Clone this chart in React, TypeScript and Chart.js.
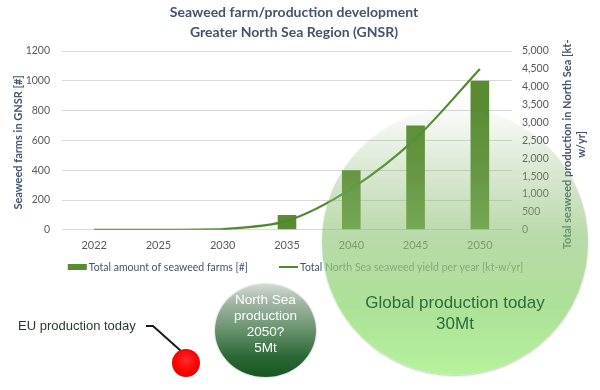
import React, { useEffect, useRef } from "react";
import { Chart, registerables } from "chart.js";

Chart.register(...registerables);

// ---- data ----
const years = ["2022", "2025", "2030", "2035", "2040", "2045", "2050"];
const farms = [0, 0, 0, 100, 400, 700, 1000];
const yieldKt = [0, 0, 20, 250, 1150, 2550, 4500];
const farmsLabel = "Total amount of seaweed farms [#]";
const yieldLabel = "Total North Sea seaweed yield per year [kt-w/yr]";
const titleLines = ["Seaweed farm/production development", "Greater North Sea Region (GNSR)"];
const leftTitle = "Seaweed farms in GNSR [#]";
const rightTitle = ["Total seaweed production in North Sea [kt-", "w/yr]"];
const farmsMax = 1200;
const farmsStep = 200;
const yieldMax = 5000;
const yieldStep = 500;
const northSeaLines = ["North Sea", "production", "2050?", "5Mt"];
const globalLines = ["Global production today", "30Mt"];
const euLabel = "EU production today";

const FONT = "Lato, 'Open Sans', sans-serif";
const TITLE_COLOR = "#44546a";
const TICK_COLOR = "#595959";
const BAR_COLOR = "#5a8b33";
const LINE_COLOR = "#4d8a2c";

const textPlugin = {
  id: "customText",
  afterDraw(chart: any) {
    const ctx = chart.ctx;
    const area = chart.chartArea;
    ctx.save();
    ctx.fillStyle = TITLE_COLOR;
    ctx.textAlign = "center";
    ctx.textBaseline = "middle";
    ctx.font = `bold 14px ${FONT}`;
    titleLines.forEach((t, i) => ctx.fillText(t, 294, 12 + i * 20));
    const midY = (area.top + area.bottom) / 2;
    ctx.font = `bold 11px ${FONT}`;
    ctx.save();
    ctx.translate(18, midY + 2);
    ctx.rotate(-Math.PI / 2);
    ctx.fillText(leftTitle, 0, 0);
    ctx.restore();
    ctx.save();
    ctx.translate(567, midY + 4);
    ctx.rotate(-Math.PI / 2);
    rightTitle.forEach((t, i) => ctx.fillText(t, 0, i * 14));
    ctx.restore();

    // legend
    const metas = chart.data.datasets;
    ctx.font = `10.5px ${FONT}`;
    ctx.textAlign = "left";
    const sw = 19;
    const gapText = 2;
    const gapItems = 31;
    const w1 = ctx.measureText(metas[0].label).width;
    const w2 = ctx.measureText(metas[1].label).width;
    const total = sw + gapText + w1 + gapItems + sw + gapText + w2;
    let x = 295.5 - total / 2;
    const ly = 267;
    ctx.fillStyle = BAR_COLOR;
    ctx.fillRect(x, ly - 3, sw, 6);
    ctx.fillStyle = TITLE_COLOR;
    ctx.fillText(metas[0].label, x + sw + gapText, ly + 0.5);
    x += sw + gapText + w1 + gapItems;
    ctx.strokeStyle = LINE_COLOR;
    ctx.lineWidth = 2;
    ctx.beginPath();
    ctx.moveTo(x, ly);
    ctx.lineTo(x + sw, ly);
    ctx.stroke();
    ctx.fillText(metas[1].label, x + sw + gapText, ly + 0.5);
    ctx.restore();
  },
};

export default function App() {
  const ref = useRef<HTMLCanvasElement>(null);
  useEffect(() => {
    if (!ref.current) return;
    const chart = new Chart(ref.current, {
      type: "bar",
      data: {
        labels: years,
        datasets: [
          {
            type: "bar",
            label: farmsLabel,
            data: farms,
            yAxisID: "y",
            backgroundColor: BAR_COLOR,
            barPercentage: 0.29,
            categoryPercentage: 1,
            order: 1,
          } as any,
          {
            type: "line",
            label: yieldLabel,
            data: yieldKt,
            yAxisID: "y1",
            borderColor: LINE_COLOR,
            backgroundColor: LINE_COLOR,
            borderWidth: 2.2,
            pointRadius: 0,
            tension: 0.3,
            order: 0,
          } as any,
        ],
      },
      options: {
        responsive: false,
        animation: false,
        layout: { padding: { top: 51, bottom: 129, left: 0, right: 0 } },
        plugins: {
          title: { display: false },
          tooltip: { enabled: false },
          legend: { display: false },
        },
        scales: {
          x: {
            grid: { display: false, drawTicks: false },
            border: { display: false },
            ticks: { color: TICK_COLOR, font: { family: FONT, size: 11 }, padding: 9 },
          },
          y: {
            position: "left",
            min: 0,
            max: farmsMax,
            grid: { color: "#d9d9d9", drawTicks: false },
            border: { display: false },
            ticks: {
              stepSize: farmsStep,
              color: TICK_COLOR,
              font: { family: FONT, size: 10.5 },
              padding: 12,
              callback: (v: any) => String(v),
            },
            afterFit: (s: any) => {
              s.width = 62;
            },
          },
          y1: {
            position: "right",
            min: 0,
            max: yieldMax,
            grid: { drawOnChartArea: false, drawTicks: false },
            border: { display: false },
            ticks: {
              stepSize: yieldStep,
              color: TICK_COLOR,
              font: { family: FONT, size: 10.5 },
              padding: 10,
              callback: (v: any) => Number(v).toLocaleString("en-US"),
            },
            afterFit: (s: any) => {
              s.width = 88;
            },
          },
        },
      },
      plugins: [textPlugin],
    });
    return () => chart.destroy();
  }, []);

  const sans = "'Liberation Sans', Arial, sans-serif";
  return (
    <div style={{ position: "absolute", left: 0, top: 0, width: 600, height: 390, overflow: "hidden", background: "#fff" }}>
      <canvas ref={ref} width={600} height={390} style={{ position: "absolute", left: 0, top: 0 }} />
      {/* Global production circle */}
      <div
        style={{
          position: "absolute",
          left: 322,
          top: 109,
          width: 266,
          height: 266,
          borderRadius: "50%",
          background:
            "linear-gradient(to bottom, rgba(130,170,110,0.04) 0%, rgba(132,178,108,0.32) 25%, rgba(138,193,112,0.6) 48%, rgba(158,220,133,0.85) 75%, rgba(180,242,155,0.97) 100%)",
          boxShadow: "0 1px 2px rgba(60,90,50,0.3)",
        }}
      />
      <div
        style={{
          position: "absolute",
          left: 322,
          top: 292,
          width: 266,
          textAlign: "center",
          fontFamily: sans,
          fontSize: 17,
          lineHeight: "21px",
          color: "#2e6b3d",
        }}
      >
        {globalLines.map((l, i) => (
          <div key={i}>{l}</div>
        ))}
      </div>
      {/* North Sea 2050 circle */}
      <div
        style={{
          position: "absolute",
          left: 215,
          top: 284,
          width: 101,
          height: 93,
          borderRadius: "50%",
          background: "linear-gradient(to bottom, #d2dad2 0%, #a3b5a5 20%, #6a9470 48%, #2d6838 78%, #17571f 100%)",
          boxShadow: "0 0 2px rgba(0,0,0,0.35)",
        }}
      />
      <div
        style={{
          position: "absolute",
          left: 215,
          top: 292,
          width: 101,
          textAlign: "center",
          fontFamily: sans,
          fontSize: 13.5,
          lineHeight: "16px",
          color: "#ffffff",
        }}
      >
        {northSeaLines.map((l, i) => (
          <div key={i}>{l}</div>
        ))}
      </div>
      {/* EU label + connector + red dot */}
      <div
        style={{
          position: "absolute",
          left: 18,
          top: 317,
          fontFamily: sans,
          fontSize: 13,
          lineHeight: "17px",
          color: "#1f3b2b",
          whiteSpace: "nowrap",
        }}
      >
        {euLabel}
      </div>
      <svg width={600} height={390} style={{ position: "absolute", left: 0, top: 0 }}>
        <polyline points="146,326 153,326 181,351" fill="none" stroke="#1a1a1a" strokeWidth={2} />
      </svg>
      <div
        style={{
          position: "absolute",
          left: 172,
          top: 349,
          width: 28,
          height: 28,
          borderRadius: "50%",
          background: "radial-gradient(circle at 50% 40%, #ff2a2a 0%, #f80000 55%, #d80000 100%)",
        }}
      />
    </div>
  );
}
